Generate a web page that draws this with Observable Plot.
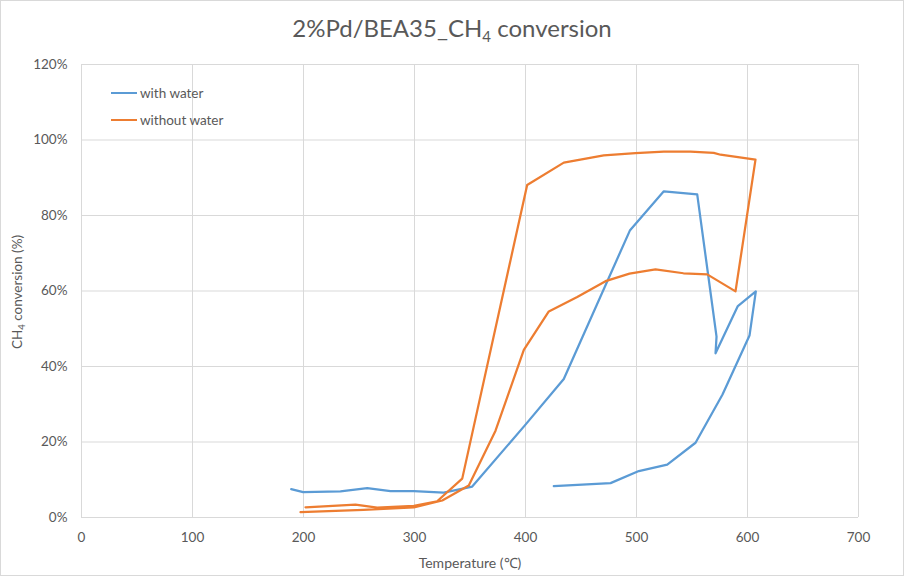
<!DOCTYPE html>
<html>
<head>
<meta charset="utf-8">
<script src="https://cdn.jsdelivr.net/npm/d3@7"></script>
<script src="https://cdn.jsdelivr.net/npm/@observablehq/plot@0.6"></script>
<style>
  html, body { margin: 0; padding: 0; background: #fff; }
  #wrap { position: relative; width: 904px; height: 576px; background: #fff; font-family: Lato, "Open Sans", sans-serif; color: #595959; overflow: hidden; }
  #title { position: absolute; left: 0; top: 13px; width: 904px; text-align: center; font-size: 24px; line-height: 30px; color: #595959; }
  #title sub { font-size: 15px; vertical-align: -5px; line-height: 0; }
  #chart { position: absolute; left: 0; top: 50px; }
  #border { position: absolute; left: 0; top: 0; width: 902px; height: 574px; border: 1px solid #d9d9d9; pointer-events: none; }
  .leg { position: absolute; left: 111px; font-size: 13.5px; color: #595959; display: flex; align-items: center; height: 16px; }
  .leg span.sw { display: inline-block; width: 26px; height: 2.5px; margin-right: 3px; }
</style>
</head>
<body>
<div id="wrap">
  <div id="title">2%Pd/BEA35_CH<sub>4</sub> conversion</div>
  <div id="chart"></div>
  <div class="leg" style="top:85px"><span class="sw" style="background:#5B9BD5"></span>with water</div>
  <div class="leg" style="top:112px"><span class="sw" style="background:#ED7D31"></span>without water</div>
  <div id="border"></div>
</div>
<script>
// Series: with water (temperature in °C, conversion in %)
const withWaterT = [188.9, 199.7, 233.3, 257.4, 278.4, 299.4, 326.4, 352.0, 400.0, 434.5, 494.0, 524.6, 554.7, 572.1, 571.2, 591.3, 607.5, 601.8, 577.5, 553.2, 527.7, 502.1, 476.6, 425.5];
const withWaterY = [7.5, 6.7, 6.9, 7.8, 7.0, 7.0, 6.6, 8.2, 24.6, 36.7, 76.0, 86.4, 85.6, 47.9, 43.5, 56.0, 59.9, 48.2, 32.6, 19.8, 14.0, 12.3, 9.1, 8.3];

// Series: without water
const withoutWaterT = [201.8, 246.8, 266.4, 299.4, 320.4, 343.0, 401.5, 434.5, 470.5, 499.1, 524.6, 548.6, 569.6, 575.7, 607.2, 589.2, 563.7, 542.3, 517.1, 493.7, 472.1, 446.6, 421.0, 398.5, 373.0, 348.9, 325.0, 299.4, 254.0, 197.3];
const withoutWaterY = [2.7, 3.4, 2.6, 3.1, 4.3, 10.3, 88.1, 94.0, 95.9, 96.5, 96.9, 96.9, 96.6, 96.1, 94.8, 59.9, 64.4, 64.7, 65.7, 64.6, 62.6, 58.4, 54.6, 44.4, 23.0, 8.5, 4.5, 2.7, 2.0, 1.4];

// Axis ticks
const xTicks = [0, 100, 200, 300, 400, 500, 600, 700];
const yTicks = [0, 20, 40, 60, 80, 100, 120];

const seriesNames = ["with water", "without water"];
const seriesColors = ["#5B9BD5", "#ED7D31"];

const withWater = withWaterT.map((t, i) => ({T: t, v: withWaterY[i]}));
const withoutWater = withoutWaterT.map((t, i) => ({T: t, v: withoutWaterY[i]}));

const chart = Plot.plot({
  width: 904,
  height: 526,
  marginTop: 14,
  marginLeft: 81,
  marginRight: 46,
  marginBottom: 59,
  style: {fontFamily: "Lato, 'Open Sans', sans-serif", fontSize: "13.5px", color: "#595959", background: "white", overflow: "visible"},
  x: {domain: [0, 700], ticks: xTicks, tickSize: 0, tickPadding: 15, label: null, tickFormat: d => String(d)},
  y: {domain: [0, 120], ticks: yTicks, tickSize: 0, tickPadding: 14, label: null, tickFormat: d => d + "%"},
  marks: [
    Plot.ruleX(xTicks, {stroke: "#d9d9d9", strokeWidth: 1}),
    Plot.ruleY(yTicks, {stroke: "#d9d9d9", strokeWidth: 1}),
    Plot.line(withWater, {x: "T", y: "v", stroke: seriesColors[0], strokeWidth: 2.25, strokeLinejoin: "round"}),
    Plot.line(withoutWater, {x: "T", y: "v", stroke: seriesColors[1], strokeWidth: 2.25, strokeLinejoin: "round"})
  ]
});
document.getElementById("chart").appendChild(chart);

const svg = d3.select(chart);
// x-axis title
svg.append("text")
  .attr("x", 470).attr("y", 518)
  .attr("text-anchor", "middle")
  .attr("fill", "#595959")
  .style("font-size", "14px")
  .text("Temperature (℃)");
// y-axis title with subscript
const yl = svg.append("text")
  .attr("transform", "translate(22,242) rotate(-90)")
  .attr("text-anchor", "middle")
  .attr("fill", "#595959")
  .style("font-size", "13.5px");
yl.append("tspan").text("CH");
yl.append("tspan").attr("dy", 3).style("font-size", "9.5px").text("4");
yl.append("tspan").attr("dy", -3).text(" conversion (%)");
</script>
</body>
</html>
